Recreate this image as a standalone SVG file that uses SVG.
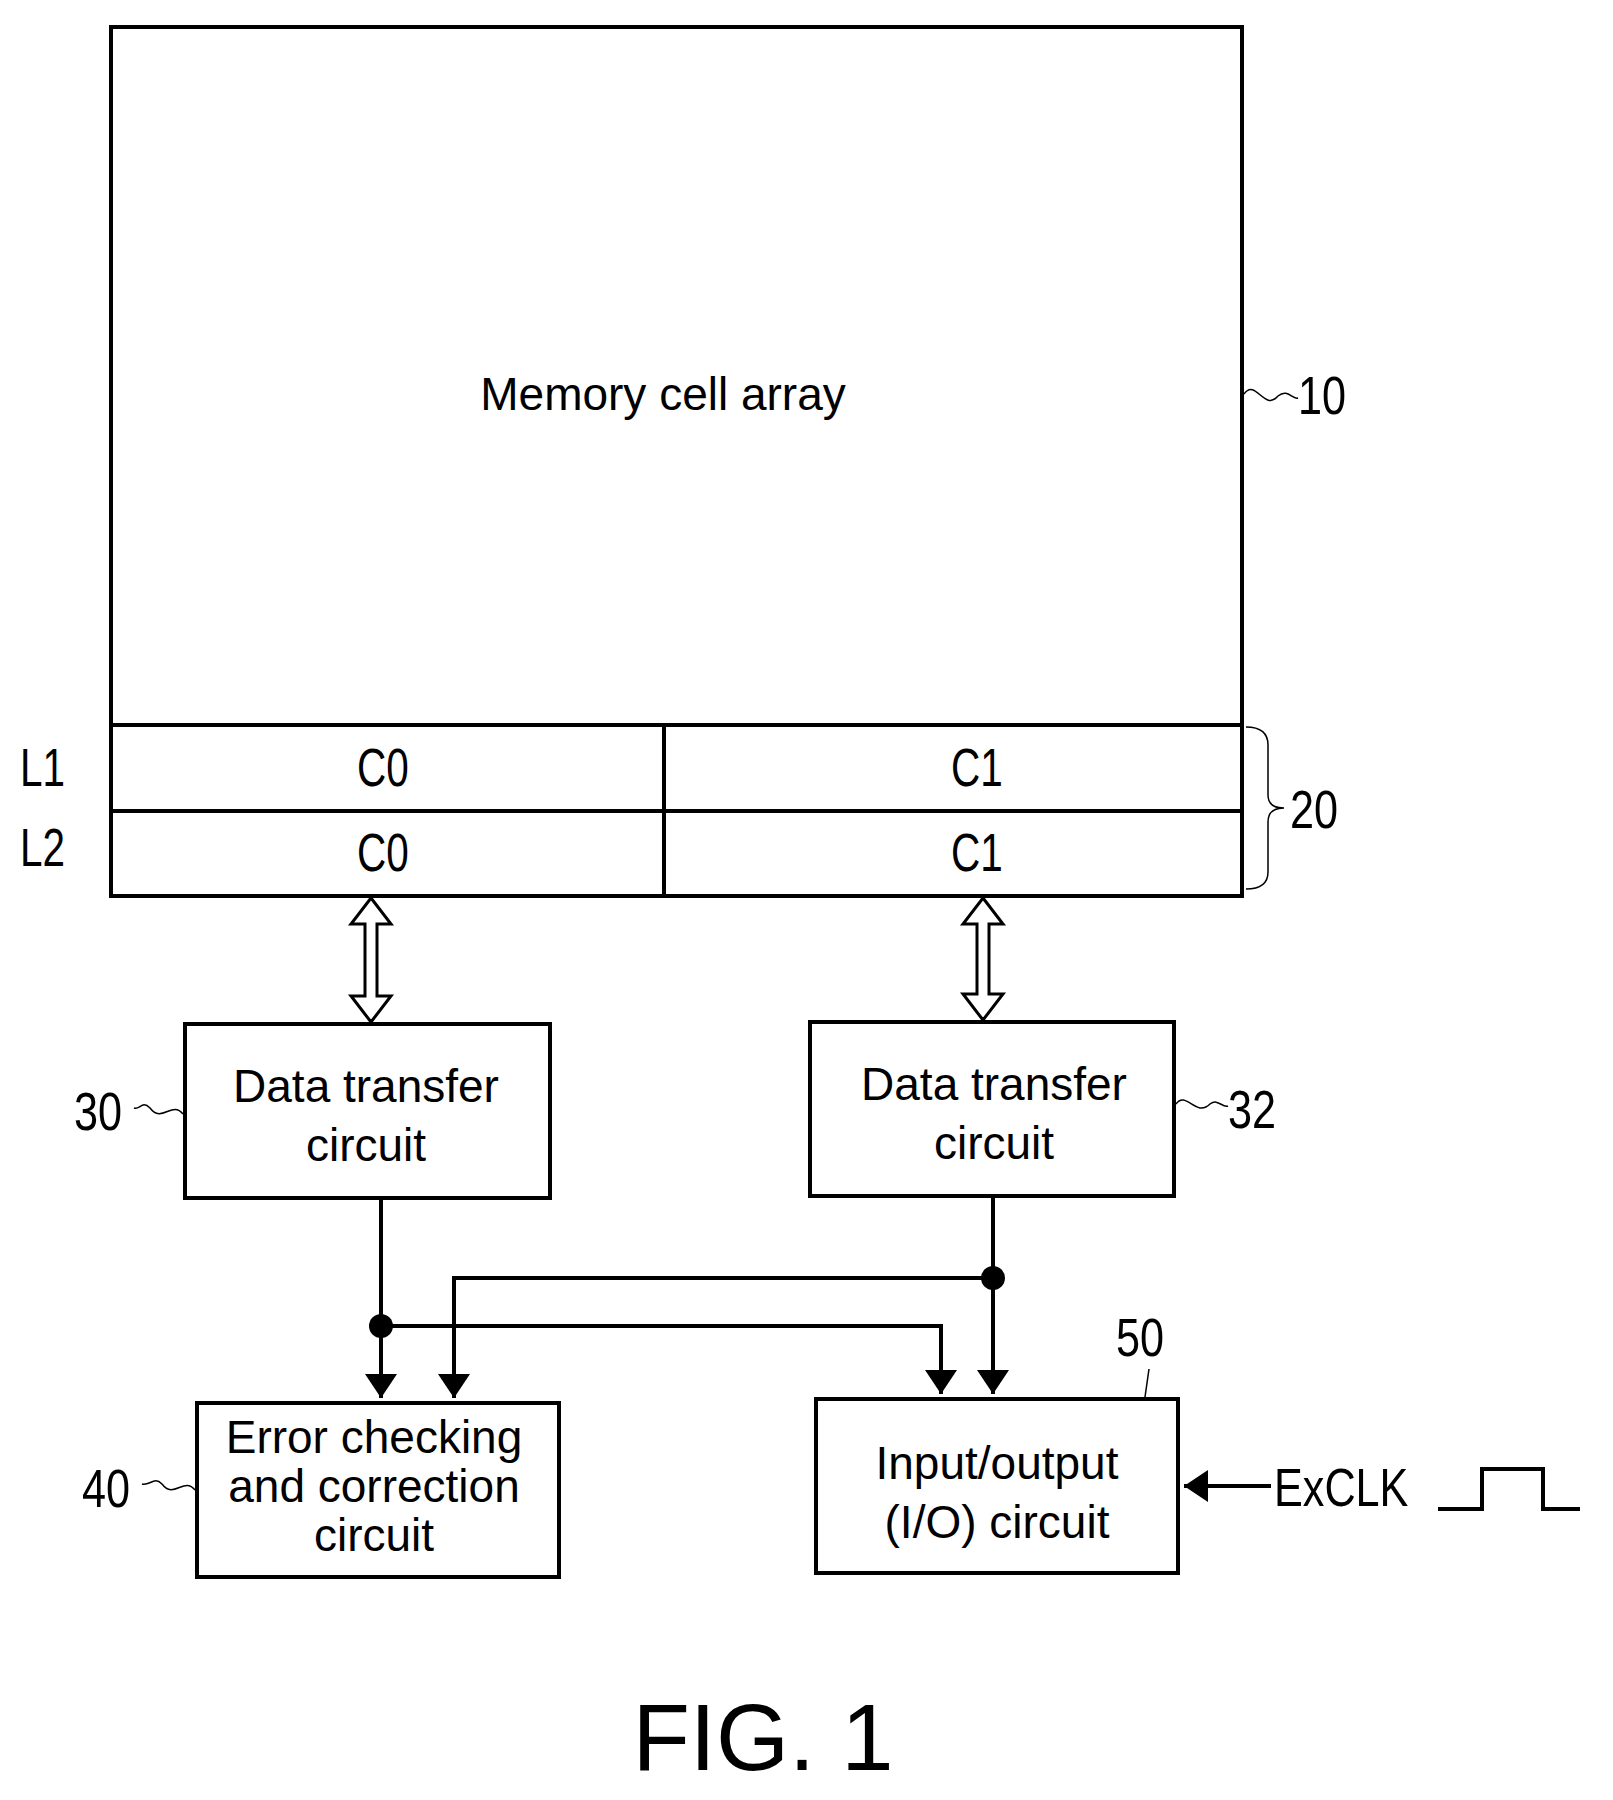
<svg xmlns="http://www.w3.org/2000/svg" width="1613" height="1800" viewBox="0 0 1613 1800">
<style>
.b{fill:none;stroke:#000;stroke-width:4}
.t{font-family:"Liberation Sans",Arial,sans-serif;font-size:46px;text-anchor:middle;fill:#000}
.n{font-family:"Liberation Sans",Arial,sans-serif;font-size:54px;fill:#000}
.l{fill:none;stroke:#000;stroke-width:4}
.s{fill:none;stroke:#000;stroke-width:1.5}
</style>
<defs>
<marker id="a" markerWidth="6" markerHeight="8" refX="6" refY="4" orient="auto" markerUnits="strokeWidth"><path d="M0,0 L6,4 L0,8 z" fill="#000"/></marker>
</defs>
<rect width="1613" height="1800" fill="#fff"/>
<g id="mem">
<rect class="b" x="111" y="27" width="1131" height="869"/>
<line class="l" x1="111" y1="725" x2="1242" y2="725"/>
<line class="l" x1="111" y1="811" x2="1242" y2="811"/>
<line class="l" x1="664" y1="725" x2="664" y2="896"/>
<text class="t" x="663" y="410">Memory cell array</text>
<text class="n" x="383" y="786" text-anchor="middle" transform="translate(383 0) scale(0.75 1) translate(-383 0)">C0</text>
<text class="n" x="977" y="786" text-anchor="middle" transform="translate(977 0) scale(0.75 1) translate(-977 0)">C1</text>
<text class="n" x="383" y="871" text-anchor="middle" transform="translate(383 0) scale(0.75 1) translate(-383 0)">C0</text>
<text class="n" x="977" y="871" text-anchor="middle" transform="translate(977 0) scale(0.75 1) translate(-977 0)">C1</text>
<text class="n" x="20" y="786" transform="translate(20 0) scale(0.75 1) translate(-20 0)">L1</text>
<text class="n" x="20" y="866" transform="translate(20 0) scale(0.75 1) translate(-20 0)">L2</text>
<path class="s" d="M1244,394 C1256,378 1264,412 1278,396 C1288,388 1292,400 1298,398"/>
<text class="n" x="1298" y="414" transform="translate(1298 0) scale(0.8 1) translate(-1298 0)">10</text>
<path class="s" d="M1246,727 Q1268,727 1268,745 L1268,795 Q1268,808 1284,808 Q1268,808 1268,822 L1268,872 Q1268,889 1246,889"/>
<text class="n" x="1290" y="828" transform="translate(1290 0) scale(0.8 1) translate(-1290 0)">20</text>
</g>
<g id="arrows">
<path class="s" style="stroke-width:3;fill:#fff" d="M371,898 L391,924 L377,924 L377,996 L391,996 L371,1022 L351,996 L365,996 L365,924 L351,924 Z"/>
<path class="s" style="stroke-width:3;fill:#fff" d="M983,898 L1003,924 L989,924 L989,994 L1003,994 L983,1020 L963,994 L977,994 L977,924 L963,924 Z"/>
</g>
<g id="dt30">
<rect class="b" x="185" y="1024" width="365" height="174"/>
<text class="t" x="366" y="1102">Data transfer</text>
<text class="t" x="366" y="1161">circuit</text>
<path class="s" d="M183,1114 C172,1100 162,1124 150,1108 C142,1100 140,1110 134,1108"/>
<text class="n" x="74" y="1130" transform="translate(74 0) scale(0.8 1) translate(-74 0)">30</text>
</g>
<g id="dt32">
<rect class="b" x="810" y="1022" width="364" height="174"/>
<text class="t" x="994" y="1100">Data transfer</text>
<text class="t" x="994" y="1159">circuit</text>
<path class="s" d="M1176,1104 C1186,1090 1196,1118 1210,1104 C1218,1098 1222,1108 1228,1106"/>
<text class="n" x="1228" y="1128" transform="translate(1228 0) scale(0.8 1) translate(-1228 0)">32</text>
</g>
<g id="ecc">
<rect class="b" x="197" y="1403" width="362" height="174"/>
<text class="t" x="374" y="1453">Error checking</text>
<text class="t" x="374" y="1502">and correction</text>
<text class="t" x="374" y="1551">circuit</text>
<path class="s" d="M195,1490 C184,1476 174,1500 162,1484 C154,1476 150,1486 142,1484"/>
<text class="n" x="82" y="1507" transform="translate(82 0) scale(0.8 1) translate(-82 0)">40</text>
</g>
<g id="io">
<rect class="b" x="816" y="1399" width="362" height="174"/>
<text class="t" x="997" y="1479">Input/output</text>
<text class="t" x="997" y="1538">(I/O) circuit</text>
<path class="s" d="M1149,1369 L1145,1397"/>
<text class="n" x="1116" y="1356" transform="translate(1116 0) scale(0.8 1) translate(-1116 0)">50</text>
</g>
<g id="connectors">
<path class="l" d="M381,1198 L381,1398" marker-end="url(#a)"/>
<path class="l" d="M381,1326 L941,1326 L941,1394" marker-end="url(#a)"/>
<path class="l" d="M993,1196 L993,1394" marker-end="url(#a)"/>
<path class="l" d="M993,1278 L454,1278 L454,1398" marker-end="url(#a)"/>
<circle cx="381" cy="1326" r="12" fill="#000"/>
<circle cx="993" cy="1278" r="12" fill="#000"/>
<path class="l" d="M1271,1486 L1184,1486" marker-end="url(#a)"/>
</g>
<g id="clk">
<text class="n" x="1274" y="1506" transform="translate(1274 0) scale(0.8 1) translate(-1274 0)">ExCLK</text>
<path class="l" d="M1438,1509 L1482,1509 L1482,1469 L1543,1469 L1543,1509 L1580,1509"/>
</g>
<text x="763" y="1770" style="font-family:'Liberation Sans',Arial,sans-serif;font-size:94px;text-anchor:middle">FIG. 1</text>
</svg>
